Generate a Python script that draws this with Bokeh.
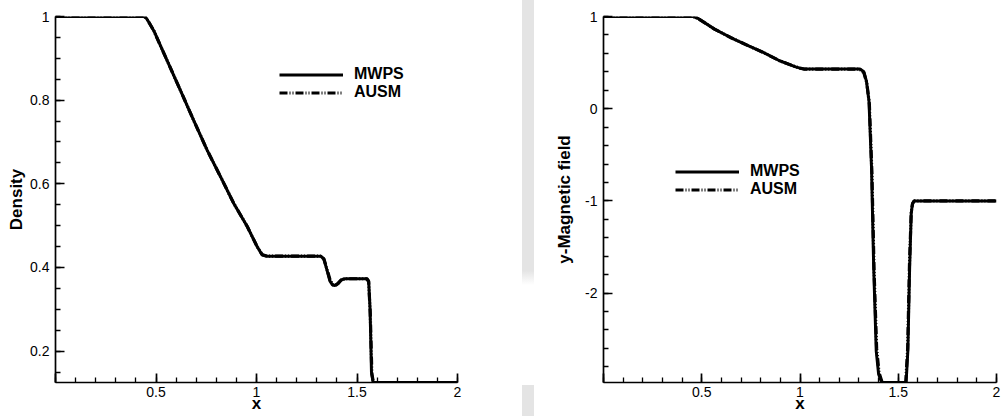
from bokeh.plotting import figure
from bokeh.models import (Legend, LegendItem, SingleIntervalTicker, CustomJSTickFormatter,
                          Range1d, Div)
from bokeh.layouts import row
from bokeh.embed import file_html
from bokeh.resources import INLINE

# ---- data: density (left panel) ----
rho_x_mwps = [0.0, 0.44, 0.452, 0.466, 0.489, 0.556, 0.622, 0.688, 0.755, 0.821, 0.887, 0.954,
              1.003, 1.028, 1.053, 1.32, 1.335, 1.35, 1.365, 1.378, 1.39, 1.405, 1.42, 1.44,
              1.55, 1.558, 1.565, 1.572, 1.58, 2.0]
rho_y_mwps = [1.0, 1.0, 0.996, 0.985, 0.966, 0.894, 0.823, 0.751, 0.680, 0.617, 0.553, 0.498,
              0.450, 0.430, 0.427, 0.427, 0.420, 0.395, 0.368, 0.358, 0.357, 0.362, 0.370, 0.373,
              0.373, 0.368, 0.300, 0.150, 0.125, 0.125]
rho_x_ausm = [0.0, 0.44, 0.452, 0.466, 0.489, 0.556, 0.622, 0.688, 0.755, 0.821, 0.887, 0.954,
              1.003, 1.028, 1.053, 1.318, 1.335, 1.35, 1.366, 1.38, 1.392, 1.407, 1.422, 1.44,
              1.548, 1.558, 1.566, 1.574, 1.582, 2.0]
rho_y_ausm = [1.0, 1.0, 0.996, 0.985, 0.966, 0.894, 0.823, 0.751, 0.680, 0.617, 0.553, 0.498,
              0.450, 0.431, 0.427, 0.427, 0.421, 0.397, 0.370, 0.359, 0.357, 0.362, 0.370, 0.373,
              0.373, 0.366, 0.290, 0.145, 0.125, 0.125]

# ---- data: y-magnetic field (right panel) ----
by_x_mwps = [0.0, 0.457, 0.48, 0.565, 0.647, 0.730, 0.813, 0.896, 0.978, 1.0, 1.02, 1.04,
             1.305, 1.325, 1.338, 1.351, 1.364, 1.375, 1.388, 1.40, 1.416, 1.54, 1.549, 1.558,
             1.566, 1.572, 1.58, 2.0]
by_y_mwps = [1.0, 1.0, 0.98, 0.863, 0.772, 0.69, 0.61, 0.52, 0.454, 0.44, 0.43, 0.43,
             0.43, 0.40, 0.30, 0.086, -0.64, -1.72, -2.63, -2.88, -2.97, -2.97, -2.62, -1.72,
             -1.14, -1.03, -1.0, -1.0]
by_x_ausm = [0.0, 0.457, 0.48, 0.565, 0.647, 0.730, 0.813, 0.896, 0.978, 1.0, 1.02, 1.04,
             1.303, 1.325, 1.34, 1.353, 1.366, 1.377, 1.39, 1.402, 1.418, 1.538, 1.548, 1.557,
             1.566, 1.573, 1.582, 2.0]
by_y_ausm = [1.0, 1.0, 0.98, 0.863, 0.772, 0.69, 0.61, 0.52, 0.454, 0.44, 0.43, 0.43,
             0.43, 0.39, 0.28, 0.05, -0.70, -1.76, -2.60, -2.86, -2.97, -2.97, -2.60, -1.70,
             -1.12, -1.03, -1.0, -1.0]

series_labels = ["MWPS", "AUSM"]

FONT = "Liberation Sans"
fmt_x = CustomJSTickFormatter(code="""
if (Math.abs(tick) < 1e-9) { return ''; }
return String(Number(tick.toFixed(3)));
""")
fmt_y = CustomJSTickFormatter(code="return String(Number(tick.toFixed(3)));")


def style(p, x_label, y_label, y_interval, y_minor, y_label_standoff):
    p.outline_line_color = None
    p.xgrid.visible = False
    p.ygrid.visible = False
    p.background_fill_color = "white"
    p.border_fill_color = "white"
    p.xaxis.ticker = SingleIntervalTicker(interval=0.5, num_minor_ticks=5)
    p.yaxis.ticker = SingleIntervalTicker(interval=y_interval, num_minor_ticks=y_minor)
    p.xaxis.formatter = fmt_x
    p.yaxis.formatter = fmt_y
    for ax in (p.xaxis[0], p.yaxis[0]):
        ax.axis_line_width = 1.7
        ax.axis_line_color = "black"
        ax.major_tick_in = 9
        ax.major_tick_out = 0
        ax.minor_tick_in = 5
        ax.minor_tick_out = 0
        ax.major_tick_line_width = 1.7
        ax.minor_tick_line_width = 1.3
        ax.major_tick_line_color = "black"
        ax.minor_tick_line_color = "black"
        ax.major_label_text_font = FONT
        ax.major_label_text_font_size = "14px"
        ax.major_label_text_color = "black"
        ax.axis_label_text_font = FONT
        ax.axis_label_text_font_size = "17px"
        ax.axis_label_text_font_style = "bold"
        ax.axis_label_text_color = "black"
    p.xaxis.axis_label = x_label
    p.yaxis.axis_label = y_label
    p.xaxis.major_label_standoff = 4
    p.yaxis.major_label_standoff = 6
    p.xaxis.axis_label_standoff = -6
    p.yaxis.axis_label_standoff = y_label_standoff


def add_lines(p, xm, ym, xa, ya, loc):
    ra = p.line(xa, ya, line_color="black", line_width=3.2, line_dash="8 2 1 2 1 2")
    rm = p.line(xm, ym, line_color="black", line_width=3)
    leg = Legend(items=[LegendItem(label=series_labels[0], renderers=[rm]),
                        LegendItem(label=series_labels[1], renderers=[ra])],
                 location=loc, margin=0, padding=0, spacing=0,
                 glyph_width=64, glyph_height=17, label_height=17, label_standoff=11,
                 border_line_color=None, background_fill_alpha=0,
                 label_text_font=FONT, label_text_font_size="16px",
                 label_text_font_style="bold", label_text_color="black")
    p.add_layout(leg)


p1 = figure(width=510, height=416, output_backend="svg", toolbar_location=None,
            x_range=Range1d(0, 2), y_range=Range1d(0.125, 1.0),
            min_border_left=55, min_border_right=53, min_border_top=16, min_border_bottom=34)
style(p1, "x", "Density", 0.2, 4, 1)
add_lines(p1, rho_x_mwps, rho_y_mwps, rho_x_ausm, rho_y_ausm, (224, 281))

p2 = figure(width=470, height=416, output_backend="svg", toolbar_location=None,
            x_range=Range1d(0, 2), y_range=Range1d(-2.97, 1.0),
            min_border_left=69, min_border_right=8, min_border_top=16, min_border_bottom=34)
style(p2, "x", "y-Magnetic field", 1.0, 5, 8)
add_lines(p2, by_x_mwps, by_y_mwps, by_x_ausm, by_y_ausm, (72, 184))

band = Div(text=('<div style="position:relative;width:24px;height:416px;">'
                 '<div style="position:absolute;left:12px;top:0;width:12px;height:285px;'
                 'background:linear-gradient(#e4e4e4 95%, #ffffff);"></div>'
                 '<div style="position:absolute;left:12px;top:385px;width:12px;height:31px;'
                 'background:#e4e4e4;"></div></div>'),
           width=24, height=416, margin=0)

layout = row(p1, band, p2)
open("out.html", "w").write(file_html(layout, INLINE))
